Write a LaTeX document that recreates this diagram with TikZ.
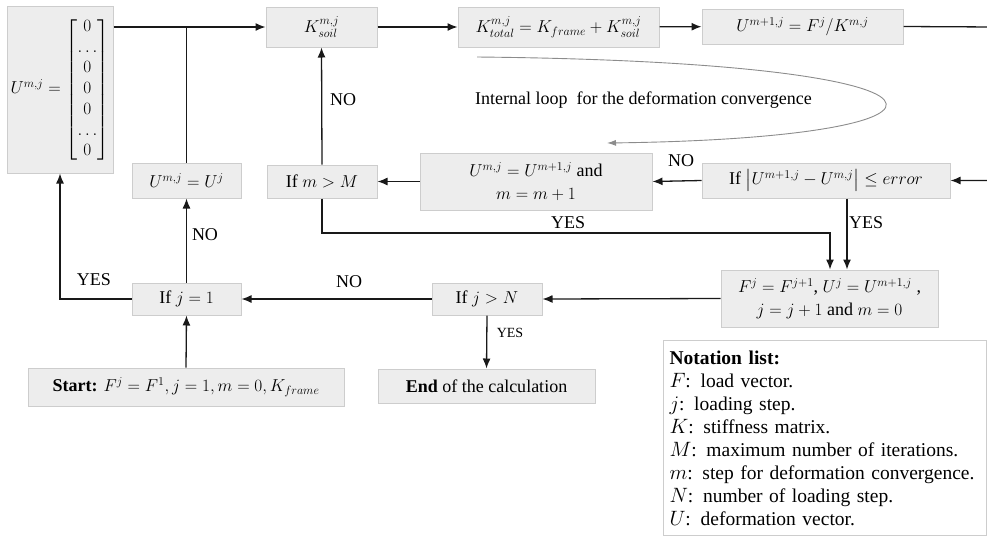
\documentclass[tikz,border=0pt]{standalone}
\usepackage{amsmath,amssymb}
\usepackage{fontspec}
\setmainfont{Liberation Serif}
\usetikzlibrary{arrows.meta,calc,positioning,shapes}
\tikzset{
  flowbox/.style = {align=center, inner sep=0pt, draw=my_edge, fill=my_fill, line width=1pt,
  font=\fontsize{18}{23}\selectfont},
  notebox/.style = {align=left, inner sep=6pt, draw=my_edge, fill=white, line width=1pt,
  font=\fontsize{19.5}{23}\selectfont},
  lbl/.style = {inner sep=1pt, font=\fontsize{18}{20}\selectfont},
  lbl_s/.style = {lbl, font=\fontsize{14}{16}\selectfont}
}
\definecolor{my_fill}{RGB}{237, 237, 237}
\definecolor{my_edge}{RGB}{205, 205, 205}
\definecolor{my_line}{RGB}{25, 25, 25}
\definecolor{my_loop}{RGB}{140, 140, 140}

\begin{document}
\begin{tikzpicture}[x=1pt,y=-1pt,>={Latex[length=10pt,width=8pt]},
        conn/.style={->, draw=my_line, line width=1.3pt},
        wire/.style={draw=my_line, line width=1.3pt}]
        \clip (0,0) rectangle (987,539);
        % boxes of the upper row
        \node [flowbox, minimum width=106pt, minimum height=167pt] (mat) at (60,89.5)
            {\renewcommand{\arraystretch}{0.9}%
             $U^{m,j}=\begin{bmatrix}0\\ \dots\\ 0\\ 0\\ 0\\ \dots\\ 0\end{bmatrix}$};
        \node [flowbox, minimum width=111pt, minimum height=40pt] (soil) at (321.5,27) {$K^{m,j}_{soil}$};
        \node [flowbox, minimum width=201pt, minimum height=40pt] (total) at (558.5,27)
            {$K^{m,j}_{total}=K_{frame}+K^{m,j}_{soil}$};
        \node [flowbox, minimum width=201pt, minimum height=35pt] (unew) at (802.5,26.5) {$U^{m+1,j}=F^j/K^{m,j}$};
        % inner loop
        \node [flowbox, minimum width=248pt, minimum height=35pt] (err) at (826,180.5)
            {If $\left|U^{m+1,j}-U^{m,j}\right|\le error$};
        \node [flowbox, minimum width=232pt, minimum height=57pt] (upd) at (536,181.5)
            {$U^{m,j}=U^{m+1,j}$ and\\ $m=m+1$};
        \node [flowbox, minimum width=110pt, minimum height=33pt] (ifm) at (322,181.5) {If $m>M$};
        \node [flowbox, minimum width=109pt, minimum height=35pt] (uj) at (186.5,180.5) {$U^{m,j}=U^j$};
        % outer loop
        \node [flowbox, minimum width=109pt, minimum height=32pt] (ifj1) at (186.5,299) {If $j=1$};
        \node [flowbox, minimum width=110pt, minimum height=32pt] (ifjN) at (487,299) {If $j>N$};
        \node [flowbox, minimum width=217pt, minimum height=57pt] (fnext) at (829.5,298.5)
            {$F^j=F^{j+1}$, $U^j=U^{m+1,j}$ ,\\ $j=j+1$ and $m=0$};
        \node [flowbox, minimum width=316pt, minimum height=38pt] (start) at (186,387)
            {\textbf{Start:} $F^j=F^1, j=1, m=0, K_{frame}$};
        \node [flowbox, minimum width=217pt, minimum height=34pt] (end) at (486.5,386)
            {\textbf{End} of the calculation};
        \node [notebox, anchor=north west, text width=311pt, minimum height=195pt] (notes) at (663,340)
            {\textbf{Notation list:}\\
             $F$: load vector.\\
             $j$: loading step.\\
             $K$: stiffness matrix.\\
             $M$: maximum number of iterations.\\
             $m$: step for deformation convergence.\\
             $N$: number of loading step.\\
             $U$: deformation vector.};
        % connectors
        \coordinate (rt) at (995,27);
        \coordinate (yb) at (830,233);
        \coordinate (loop_a) at (477,57);
        \coordinate (loop_b) at (607,143);
        \draw [conn] (mat.east |- soil.west) -- (soil.west);
        \draw [wire] (uj.north) -- (uj.north |- soil.west);
        \draw [conn] (soil) -- (total);
        \draw [conn] (total) -- (unew);
        \draw [conn] (unew.east) -- (rt) |- (err.east);
        \draw [conn] (err.west) -- (upd.east);
        \draw [conn] (upd.west) -- (ifm.east);
        \draw [conn] (ifm.north) -- (soil.south);
        \draw [conn] (ifm.south) |- (yb) -- (yb |- fnext.north);
        \draw [conn] ([xshift=21pt]err.south) -- ([xshift=21pt]err.south |- fnext.north);
        \draw [conn] (fnext.west) -- (ifjN.east);
        \draw [conn] (ifjN.west) -- (ifj1.east);
        \draw [conn] (ifjN.south) -- (end.north);
        \draw [conn] (start.north) -- (ifj1.south);
        \draw [conn] (ifj1.north) -- (uj.south);
        \draw [conn] (ifj1.west) -| (mat.south);
        \draw [->, my_loop, line width=0.9pt, >={Latex[length=9pt,width=6pt]}]
            (loop_a) .. controls (997,62) and (997,138) .. (loop_b);
        % labels
        \node [lbl] (loop_txt) at (643.5,100) {Internal loop\ \ for the deformation convergence};
        \node [lbl] (no_err) at (681,161) {NO};
        \node [lbl] (no_m) at (343,100) {NO};
        \node [lbl] (yes_m) at (568,223) {YES};
        \node [lbl] (yes_err) at (866,223) {YES};
        \node [lbl] (no_N) at (349,282) {NO};
        \node [lbl_s] (yes_N) at (510,333) {YES};
        \node [lbl] (no_j1) at (205,235) {NO};
        \node [lbl] (yes_j1) at (94,280) {YES};
\end{tikzpicture}
\end{document}
